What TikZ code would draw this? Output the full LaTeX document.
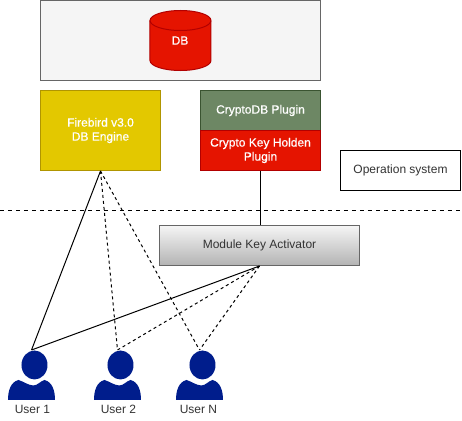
\documentclass[tikz,border=0pt]{standalone}
\usepackage{fontspec}
\setmainfont{Liberation Sans}
\newfontfamily\heavyfont[FakeBold=0.6]{Liberation Sans}
\definecolor{fgray}{HTML}{F5F5F5}
\definecolor{sgray}{HTML}{666666}
\definecolor{mgray}{HTML}{B3B3B3}
\definecolor{fred}{HTML}{E51400}
\definecolor{sred}{HTML}{B20000}
\definecolor{fyel}{HTML}{E3C800}
\definecolor{syel}{HTML}{B09500}
\definecolor{fgrn}{HTML}{6D8764}
\definecolor{sgrn}{HTML}{3A5431}
\definecolor{fblu}{HTML}{001D8C}
\definecolor{txt}{HTML}{333333}
\tikzset{
  box/.style={draw,rectangle,minimum width=90pt,minimum height=30pt,inner sep=0pt,align=center,font=\fontsize{9}{10.5}\selectfont,line width=0.75pt},
  whitebox/.style={box,text=white,font=\heavyfont\fontsize{9}{10.5}\selectfont},
  lnk/.style={line width=0.75pt,black},
  dlnk/.style={lnk,dash pattern=on 2.25pt off 2.25pt},
  ulabel/.style={inner sep=0pt,text=txt,font=\fontsize{9}{10.5}\selectfont},
}
\newcommand{\usershape}[2]{%
  \fill[fblu] ({#1+3},-365) ellipse[x radius=13,y radius=14.5];
  \fill[fblu] ({#1-23.5},-400) .. controls ({#1-23.5},-391) and ({#1-21},-382) .. ({#1-13},-380)
     .. controls ({#1-9},-381) and ({#1-3},-385.5) .. ({#1+2},-385.5)
     .. controls ({#1+6},-385.5) and ({#1+9},-381) .. ({#1+13},-380)
     .. controls ({#1+21},-382) and ({#1+23.5},-391) .. ({#1+23.5},-400) -- cycle;
  \coordinate (#2) at (#1,-350);
}
\begin{document}
\begin{tikzpicture}[x=0.75pt,y=0.75pt]
\useasboundingbox (0,-421) rectangle (462,0);
\node[box,draw=sgray,fill=fgray,minimum width=210pt,minimum height=60pt] (frame) at (180.5,-40.5) {};
\path[draw=sred,fill=fred,line width=0.75pt]
  (150,-20.5) -- (150,-60.5) arc[start angle=180,end angle=360,x radius=30.5,y radius=10]
  -- (211,-20.5) arc[start angle=0,end angle=180,x radius=30.5,y radius=10] -- cycle;
\path[draw=sred,line width=0.75pt]
  (150,-20.5) arc[start angle=180,end angle=360,x radius=30.5,y radius=10];
\node[inner sep=0pt,text=white,font=\heavyfont\fontsize{9}{10.5}\selectfont] (db) at (180,-40.5) {DB};
\node[whitebox,draw=syel,fill=fyel,minimum height=60pt] (fb) at (100.5,-130.5) {Firebird v3.0\\DB Engine};
\node[whitebox,draw=sgrn,fill=fgrn] (cp) at (260.5,-110.5) {CryptoDB Plugin};
\node[whitebox,draw=sred,fill=fred] (kh) at (260.5,-150.5) {Crypto Key Holden\\Plugin};
\node[box,draw=black,fill=white,text=txt] (os) at (400.5,-170.5) {Operation system};
\node[box,draw=sgray,top color=fgray,bottom color=mgray,text=txt,minimum width=150pt] (mk) at (259.5,-245.5) {Module Key Activator};
\coordinate (sepL) at (0,-210.5);
\coordinate (sepR) at (460,-210.5);
\draw[dlnk,dash pattern=on 3pt off 3pt] (sepL) -- (sepR);
\usershape{31.5}{u1}
\usershape{117.5}{u2}
\usershape{199.5}{u3}
\node[ulabel] (l1) at (32.5,-409.5) {User 1};
\node[ulabel] (l2) at (118.5,-409.5) {User 2};
\node[ulabel] (l3) at (198.5,-409.5) {User N};
\draw[lnk] (fb.south) -- (u1);
\draw[dlnk] (fb.south) -- (u2);
\draw[dlnk] (fb.south) -- (u3);
\draw[lnk] (kh.south) -- (kh.south |- mk.north);
\draw[lnk] (mk.south) -- (u1);
\draw[dlnk] (mk.south) -- (u2);
\draw[dlnk] (mk.south) -- (u3);
\end{tikzpicture}
\end{document}
